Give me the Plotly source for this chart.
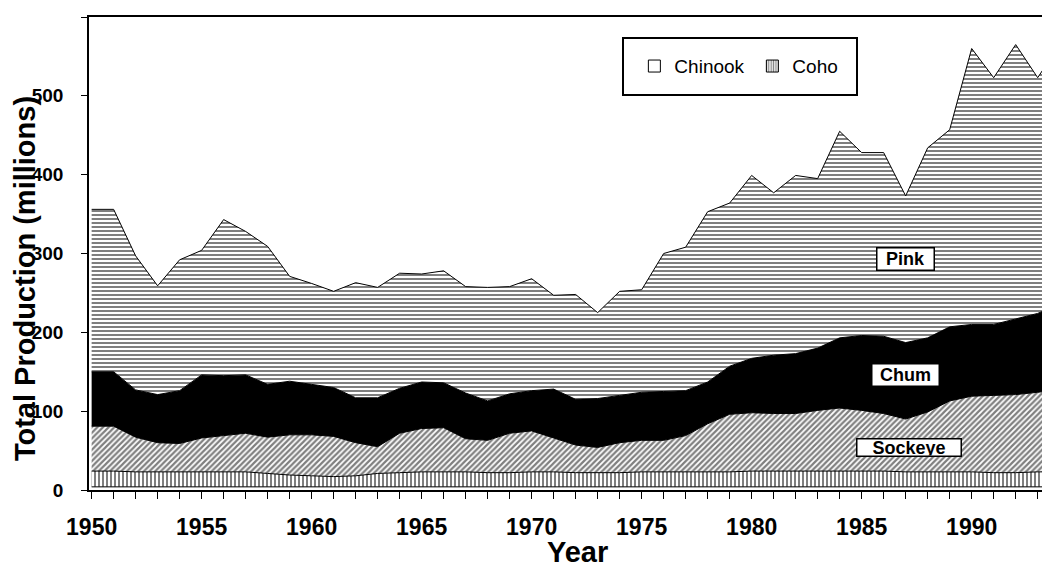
import plotly.graph_objects as go

years = list(range(1950, 1995))

chinook = [4] * 45
coho = [20, 20, 19, 19, 19, 19, 19, 19, 17, 15, 14, 13, 14, 17, 18, 19, 19, 19, 18, 18,
        19, 19, 18, 18, 18, 19, 19, 19, 19, 19, 20, 20, 20, 20, 20, 20, 20, 19, 19, 19,
        19, 18, 18, 19, 19]
sockeye = [57, 57, 44, 37, 36, 43, 46, 49, 46, 51, 52, 51, 42, 34, 50, 55, 56, 42, 41, 50,
           52, 43, 35, 32, 38, 40, 40, 46, 61, 73, 74, 73, 73, 77, 80, 77, 73, 67, 76, 90,
           96, 98, 99, 101, 104]
chum = [69, 69, 60, 61, 67, 80, 76, 74, 67, 68, 64, 62, 57, 62, 57, 59, 57, 58, 50, 50,
        51, 62, 58, 62, 60, 61, 62, 57, 53, 61, 69, 74, 76, 79, 89, 95, 98, 97, 94, 94,
        91, 90, 96, 100, 109]
pink = [206, 206, 170, 138, 166, 158, 198, 182, 175, 133, 128, 122, 146, 140, 146, 137, 142, 135, 144, 136,
        142, 119, 133, 109, 132, 130, 175, 182, 216, 207, 232, 206, 226, 215, 262, 232, 233, 186, 241, 250,
        350, 313, 348, 299, 329]

y_ticks = [0, 100, 200, 300, 400, 500, 600]
x_ticks = [1950, 1955, 1960, 1965, 1970, 1975, 1980, 1985, 1990]

FONT = "Liberation Sans, Arial, sans-serif"

fig = go.Figure()

def add_layer(name, vals, fillcolor="white", pattern=None):
    kw = dict(x=years, y=vals, name=name, mode="lines", stackgroup="one",
              line=dict(color="black", width=1), fillcolor=fillcolor,
              showlegend=False, hoverinfo="skip")
    if pattern is not None:
        kw["fillpattern"] = pattern
    fig.add_trace(go.Scatter(**kw))

add_layer("Chinook", chinook, "white")
add_layer("Coho", coho, "white",
          dict(shape="|", fgcolor="black", bgcolor="white", size=4, solidity=0.5))
add_layer("Sockeye", sockeye, "white",
          dict(shape="/", fgcolor="black", bgcolor="white", size=4, solidity=0.55))
add_layer("Chum", chum, "black")
add_layer("Pink", pink, "white",
          dict(shape="-", fgcolor="black", bgcolor="white", size=4, solidity=0.5))

# legend-only entries
fig.add_trace(go.Bar(x=[None], y=[None], name="Chinook",
                     marker=dict(color="white", line=dict(color="black", width=1))))
fig.add_trace(go.Bar(x=[None], y=[None], name="Coho",
                     marker=dict(color="white", line=dict(color="black", width=1),
                                 pattern=dict(shape="|", fgcolor="black", bgcolor="white",
                                              size=3, solidity=0.5))))

# label boxes
labels = [("Pink", 1987.0, 293, 56, 21), ("Chum", 1987.0, 146, 66, 21),
          ("Sockeye", 1987.15, 53.4, 103, 16)]
annos = []
for txt, x, y, w, h in labels:
    annos.append(dict(x=x, y=y, xref="x", yref="y", text=txt, showarrow=False,
                      font=dict(family=FONT, size=18, color="black", weight="bold"),
                      bgcolor="white", bordercolor="black", borderwidth=1.5,
                      borderpad=0, width=w, height=h))

# axis titles as annotations (placed in plot-area fractions)
annos.append(dict(x=-0.0666, y=0.448, xref="paper", yref="paper", text="Total Production (millions)",
                  textangle=-90, showarrow=False, xanchor="center", yanchor="middle",
                  font=dict(family=FONT, size=29, color="black", weight="bold")))
annos.append(dict(x=0.5088, y=-0.1311, xref="paper", yref="paper", text="Year",
                  showarrow=False, xanchor="center", yanchor="middle",
                  font=dict(family=FONT, size=29, color="black", weight="bold")))

fig.update_layout(
    width=1042, height=559,
    margin=dict(l=81, r=0, t=9, b=77),
    paper_bgcolor="white", plot_bgcolor="white",
    font=dict(family=FONT, color="black"),
    barmode="overlay",
    xaxis=dict(range=[1949.88, 1993.56], tickmode="array", tickvals=x_ticks,
               automargin=False,
               ticks="outside", ticklen=7, tickwidth=1, tickcolor="black",
               minor=dict(dtick=1, tick0=1950, ticks="outside", ticklen=7, tickcolor="black"),
               showline=True, linecolor="black", linewidth=1.5, mirror=True,
               showgrid=False, zeroline=False,
               tickfont=dict(family=FONT, size=23, weight="bold"),
               ticklabelstandoff=9),
    yaxis=dict(range=[0, 600], tickmode="array", tickvals=y_ticks,
               automargin=False,
               ticks="outside", ticklen=6, tickwidth=1, tickcolor="black",
               showline=True, linecolor="black", linewidth=1.5, mirror=False,
               showgrid=False, zeroline=False,
               tickfont=dict(family=FONT, size=19, weight="bold"),
               ticklabelstandoff=14),
    legend=dict(orientation="h", x=0.5675, y=0.896, xanchor="left", yanchor="middle",
                traceorder="normal",
                bgcolor="rgba(0,0,0,0)", borderwidth=0,
                font=dict(family=FONT, size=19, color="black"),
                entrywidth=73, entrywidthmode="pixels"),
    shapes=[dict(type="rect", xref="paper", yref="paper",
                 x0=(623 - 89) / 961, x1=(857 - 89) / 961,
                 y0=(490 - 95) / 473, y1=(490 - 38) / 473,
                 line=dict(color="black", width=2), fillcolor="white", layer="above")],
    annotations=annos,
)

fig.write_html("out.html")
